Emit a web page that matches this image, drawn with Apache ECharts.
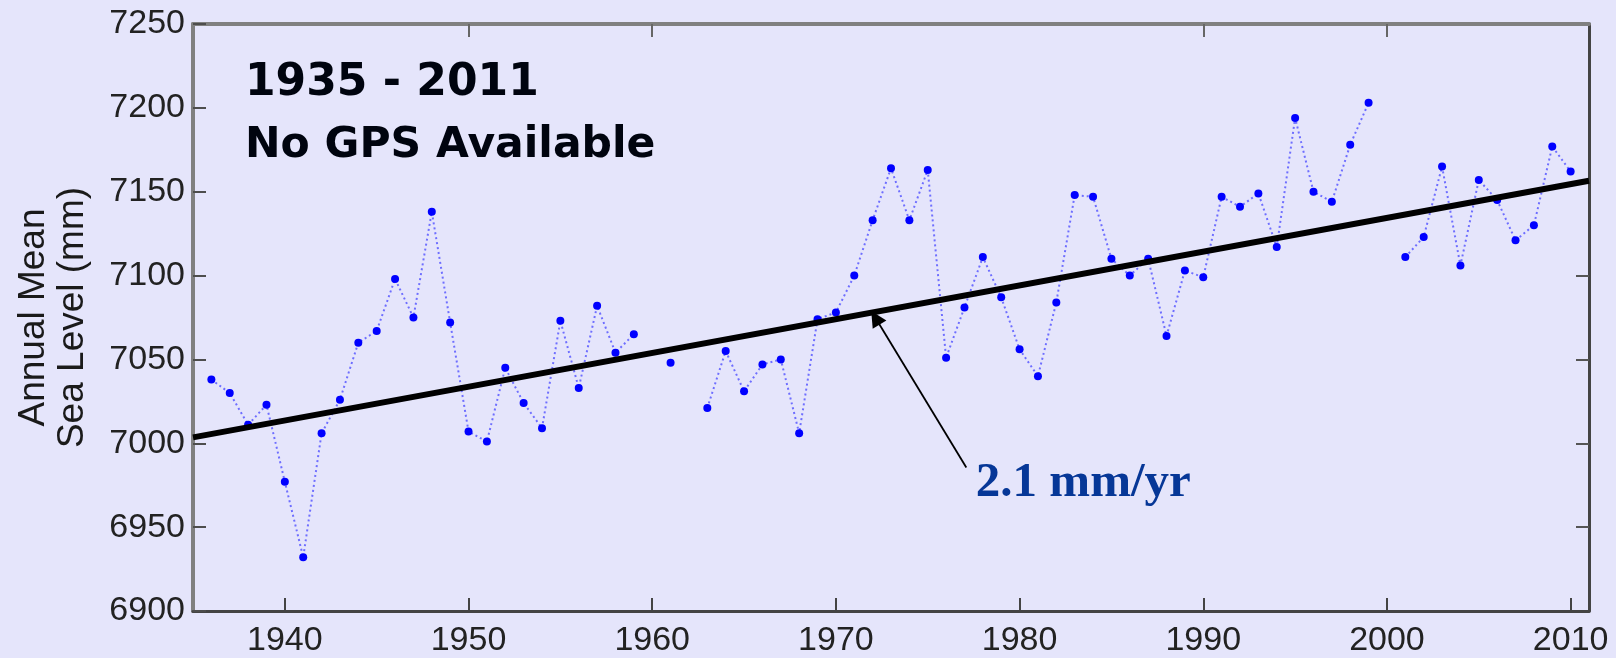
<!DOCTYPE html>
<html>
<head>
<meta charset="utf-8">
<title>Annual Mean Sea Level 1935 - 2011</title>
<script src="https://cdn.jsdelivr.net/npm/echarts@6/dist/echarts.min.js"></script>
<style>
html, body { margin: 0; padding: 0; background: #e5e5fb; }
#main { width: 1616px; height: 658px; }
</style>
</head>
<body>
<div id="main"></div>
<script>
// annual mean values, null = no data that year
var years = [1936, 1937, 1938, 1939, 1940, 1941, 1942, 1943, 1944, 1945,
             1946, 1947, 1948, 1949, 1950, 1951, 1952, 1953, 1954, 1955,
             1956, 1957, 1958, 1959, 1960, 1961, 1962, 1963, 1964, 1965,
             1966, 1967, 1968, 1969, 1970, 1971, 1972, 1973, 1974, 1975,
             1976, 1977, 1978, 1979, 1980, 1981, 1982, 1983, 1984, 1985,
             1986, 1987, 1988, 1989, 1990, 1991, 1992, 1993, 1994, 1995,
             1996, 1997, 1998, 1999, 2000, 2001, 2002, 2003, 2004, 2005,
             2006, 2007, 2008, 2009, 2010];
var seaLevel = [7038, 7030, 7011, 7023, 6977, 6932, 7006, 7026, 7060, 7067,
                7098, 7075, 7138, 7072, 7007, 7001, 7045, 7024, 7009, 7073,
                7033, 7082, 7054, 7065, null, 7048, null, 7021, 7055, 7031,
                7047, 7050, 7006, 7074, 7078, 7100, 7133, 7164, 7133, 7163,
                7051, 7081, 7111, 7087, 7056, 7040, 7084, 7148, 7147, 7110,
                7100, 7110, 7064, 7103, 7099, 7147, 7141, 7149, 7117, 7194,
                7150, 7144, 7178, 7203, null, 7111, 7123, 7165, 7106, 7157,
                7145, 7121, 7130, 7177, 7162];

// linear trend (2.1 mm/yr)
var trendYears = [1935, 2011];
var trendLevel = [7003.5, 7156.5];

// annotation arrow: tail at the label, head on the trend line
var arrowFrom = [1977.1, 6985.6];
var arrowTo = [1972.15, 7074.8];

var xTicks = [1940, 1950, 1960, 1970, 1980, 1990, 2000, 2010];
var yTicks = [6900, 6950, 7000, 7050, 7100, 7150, 7200, 7250];
var topTicks = [1950, 1960, 1990, 2000];
var rightTicks = [6950, 7000, 7050, 7100];

var seriesData = [];
for (var i = 0; i < years.length; i++) {
    seriesData.push([years[i], seaLevel[i] == null ? '-' : seaLevel[i]]);
}
var trendData = [[trendYears[0], trendLevel[0]], [trendYears[1], trendLevel[1]]];

var chart = echarts.init(document.getElementById('main'));

var plain = function (v) { return String(v); };

var option = {
    backgroundColor: '#e5e5fb',
    animation: false,
    title: {
        text: '{a|1935 - 2011}\n{b|No GPS Available}',
        left: 245,
        top: 53,
        padding: 0,
        textStyle: {
            rich: {
                a: { fontFamily: 'DejaVu Sans', fontWeight: 'bold', fontSize: 44,
                     lineHeight: 62, color: '#00040f' },
                b: { fontFamily: 'DejaVu Sans', fontWeight: 'bold', fontSize: 42.5,
                     lineHeight: 62, color: '#00040f' }
            }
        }
    },
    // fixed plot box, labels are allowed to reach the page edge
    grid: { left: 193, top: 24, width: 1396, height: 587, outerBoundsMode: 'none' },
    xAxis: [{
        type: 'value',
        min: 1935,
        max: 2011,
        position: 'bottom',
        axisLine: { show: true, onZero: false, lineStyle: { color: '#444444', width: 3 } },
        axisTick: { show: true, inside: true, length: 13, customValues: xTicks,
                    lineStyle: { color: '#444444', width: 2 } },
        axisLabel: {
            customValues: xTicks,
            formatter: plain,
            margin: 13,
            fontFamily: 'Liberation Sans', fontSize: 34, color: '#222222'
        },
        splitLine: { show: false }
    }, {
        type: 'value',
        min: 1935,
        max: 2011,
        position: 'top',
        axisLine: { show: true, onZero: false, lineStyle: { color: '#808080', width: 4 } },
        axisTick: { show: true, inside: true, length: 13, customValues: topTicks,
                    lineStyle: { color: '#666666', width: 2 } },
        axisLabel: { show: false },
        splitLine: { show: false }
    }],
    yAxis: [{
        type: 'value',
        min: yTicks[0],
        max: yTicks[yTicks.length - 1],
        interval: 50,
        position: 'left',
        name: 'Annual Mean\nSea Level (mm)',
        nameLocation: 'middle',
        nameRotate: 90,
        nameGap: 101,
        nameTextStyle: {
            fontFamily: 'Liberation Sans',
            fontSize: 37,
            lineHeight: 39,
            color: '#1a1a1a'
        },
        axisLine: { show: true, onZero: false, lineStyle: { color: '#808080', width: 4 } },
        axisTick: { show: true, inside: true, length: 13, lineStyle: { color: '#4d4d4d', width: 2 } },
        axisLabel: {
            formatter: plain,
            margin: 8,
            fontFamily: 'Liberation Sans', fontSize: 34, color: '#222222'
        },
        splitLine: { show: false }
    }, {
        type: 'value',
        min: yTicks[0],
        max: yTicks[yTicks.length - 1],
        interval: 50,
        position: 'right',
        axisLine: { show: true, onZero: false, lineStyle: { color: '#444444', width: 3 } },
        axisTick: { show: true, inside: true, length: 13, customValues: rightTicks,
                    lineStyle: { color: '#555555', width: 2 } },
        axisLabel: { show: false },
        splitLine: { show: false }
    }],
    series: [{
        name: 'Annual Mean',
        type: 'line',
        data: seriesData,
        connectNulls: false,
        symbol: 'circle',
        symbolSize: 8,
        showSymbol: true,
        silent: true,
        itemStyle: { color: '#0000ff' },
        lineStyle: { color: '#6e6eff', width: 2, type: [2, 3] },
        z: 2
    }, {
        name: 'Trend',
        type: 'line',
        data: trendData,
        symbol: 'none',
        silent: true,
        lineStyle: { color: '#000000', width: 6 },
        z: 3
    }, {
        name: 'Arrow',
        type: 'lines',
        coordinateSystem: 'cartesian2d',
        symbol: ['none', 'triangle'],
        symbolSize: [11, 16],
        silent: true,
        lineStyle: { color: '#000000', width: 1.8, opacity: 1, curveness: 0 },
        data: [{ coords: [arrowFrom, arrowTo] }],
        z: 4
    }, {
        name: 'Rate',
        type: 'scatter',
        data: [arrowFrom],
        symbolSize: 1,
        silent: true,
        itemStyle: { color: 'rgba(0,0,0,0)', opacity: 1 },
        label: {
            show: true,
            formatter: '2.1 mm/yr',
            position: 'right',
            distance: 9,
            offset: [0, 16],
            opacity: 1,
            fontFamily: 'Liberation Serif',
            fontWeight: 'bold',
            fontSize: 49,
            color: '#063797'
        },
        z: 5
    }]
};

chart.setOption(option);
</script>
</body>
</html>
